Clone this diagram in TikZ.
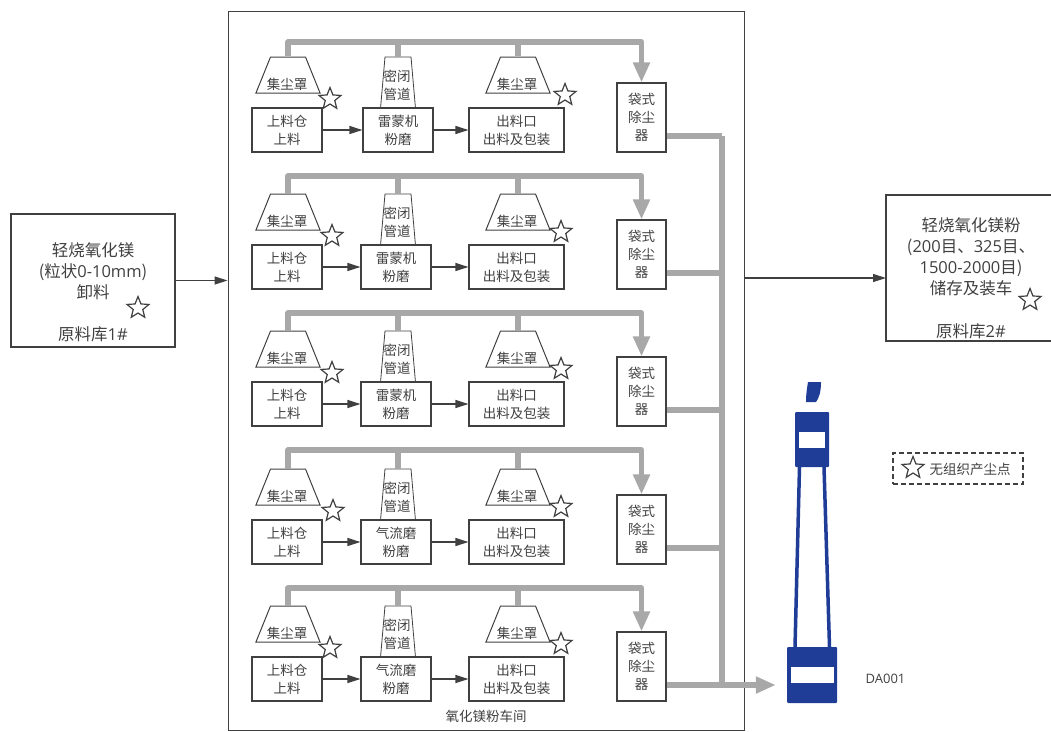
\documentclass[tikz,border=0pt]{standalone}
\usepackage{fontspec}
\setmainfont{Noto Sans CJK SC}
\newfontfamily\lat{Open Sans}
\usetikzlibrary{arrows.meta,shapes.geometric}
\definecolor{inkgray}{HTML}{404040}
\definecolor{pipegray}{HTML}{A8A8A8}
\definecolor{stackblue}{HTML}{1F3C96}
\tikzset{
  txt/.style={text=inkgray,font=\fontsize{13.5}{18}\selectfont,align=center,inner sep=0pt},
  bigtxt/.style={text=inkgray,font=\fontsize{16.5}{21}\selectfont,align=center,inner sep=0pt},
  unitbox/.style={draw=inkgray,line width=1.1pt,minimum height=44,inner sep=0pt,txt},
  hood/.style={draw=inkgray,line width=1pt,trapezium,trapezium left angle=68,trapezium right angle=68,inner xsep=17.5pt,inner ysep=18pt},
  duct/.style={draw=inkgray,line width=0.8pt,trapezium,trapezium left angle=85,trapezium right angle=85,inner xsep=13pt,inner ysep=25.5pt},
  dust/.style={draw=inkgray,fill=white,line width=1.2pt,star,star points=5,star point ratio=2.3,minimum size=23,inner sep=0pt},
  flow/.style={draw=inkgray,line width=1.3pt,-{Triangle[length=13pt,width=8pt]}},
  pipe/.style={draw=pipegray,line width=5.5pt,line join=round},
  pipehead/.style={-{Triangle[length=20pt,width=16pt]}},
  stackpart/.style={fill=stackblue,rounded corners=1pt,inner sep=0pt},
  stackwin/.style={fill=white,inner sep=0pt}
}
\begin{document}
\begin{tikzpicture}[x=1pt,y=-1pt]
  \useasboundingbox (0,0) rectangle (1051,731);
  % Workshop and the two stores
  \node[draw=inkgray,line width=1pt,minimum width=516,minimum height=719] (hall) at (486,370.5) {};
  \node[txt] (halltext) at (486,716) {氧化镁粉车间};
  \node[draw=inkgray,line width=1.1pt,minimum width=164,minimum height=133] (feed) at (93,280.5) {};
  \node[bigtxt] (feedtext) at (93,271) {轻烧氧化镁\\(粒状{\lat 0-10mm})\\卸料};
  \node[bigtxt] (feedname) at (93,334) {原料库{\lat 1\#}};
  \node[dust] (feedstar) at (138,308) {};
  \node[draw=inkgray,line width=1.1pt,minimum width=170,minimum height=146] (store) at (971,268) {};
  \node[bigtxt] (storetext) at (971,257) {轻烧氧化镁粉\\({\lat 200}目、{\lat 325}目、\\{\lat 1500-2000}目)\\储存及装车};
  \node[bigtxt] (storename) at (971,331) {原料库{\lat 2\#}};
  \node[dust] (storestar) at (1030,300) {};
  % Flows in and out of the workshop
  \draw[flow] (feed.east) -- (feed.east -| hall.west);
  \coordinate (outlet) at (886,278);
  \draw[flow] (outlet -| hall.east) -- (outlet);
  % Stack
  \node[stackpart,minimum width=50,minimum height=56] (stackbase) at (812,675) {};
  \node[stackwin,minimum width=43,minimum height=16] (basewin) at (812,675) {};
  \node[stackpart,minimum width=34,minimum height=55] (stacktop) at (812,439.5) {};
  \node[stackwin,minimum width=26,minimum height=16] (topwin) at (812,440) {};
  \draw[stackblue,line width=3.5pt] (799.5,467) -- (795,647);
  \draw[stackblue,line width=3.5pt] (824,467) -- (829.5,647);
  \fill[stackblue] (808,382) -- (821,382) .. controls (821,392) and (819,398) .. (816,402) -- (806,402) .. controls (806,394) and (807,388) .. (808,382) -- cycle;
  \node[txt,font=\lat\fontsize{13}{16}\selectfont] (stackname) at (885.5,679) {DA001};
  % Legend
  \node[draw=inkgray,line width=1.2pt,dash pattern=on 5pt off 3pt,minimum width=130,minimum height=31] (legend) at (958,468.5) {};
  \node[dust] (legendstar) at (913,468) {};
  \node[txt,font=\fontsize{13.5}{16}\selectfont] (legendtext) at (970,469) {无组织产尘点};
  % Five production lines
  \foreach \row/\ty/\busy/\mill/\millx/\stara/\starb in {
    a/108/42/雷蒙机/398/330/565,
    b/245/176/雷蒙机/396/332/561,
    c/382/313/雷蒙机/396/332/561,
    d/520/450/气流磨/396/333/561,
    e/657/588/气流磨/396/330/561}{
    % Hoods and closed duct
    \node[hood] (hooda\row) at (288,\ty-33) {};
    \node[txt] (hoodatext\row) at (287,\ty-24) {集尘罩};
    \node[duct] (duct\row) at (398,\ty-25.5) {};
    \node[txt] (ducttext\row) at (397,\ty-23) {密闭\\管道};
    \node[hood] (hoodb\row) at (518,\ty-33) {};
    \node[txt] (hoodbtext\row) at (517,\ty-24) {集尘罩};
    % Boxes
    \node[unitbox,minimum width=70] (stock\row) at (287,\ty+22) {上料仓\\上料};
    \node[unitbox,minimum width=70,fill=white] (mill\row) at (\millx,\ty+22) {\mill\\粉磨};
    \node[unitbox,minimum width=95] (pack\row) at (516.5,\ty+22) {出料口\\出料及包装};
    \node[unitbox,minimum width=49,minimum height=69] (bag\row) at (641.5,\ty+9.5) {袋式\\除尘\\器};
    \node[dust] (stara\row) at (\stara,\ty-9) {};
    \node[dust] (starb\row) at (\starb,\ty-13) {};
    % Material flow
    \draw[flow] (stock\row) -- (mill\row);
    \draw[flow] (mill\row) -- (pack\row);
    % Dust collection
    \coordinate (bus\row) at (397,\busy);
    \draw[pipe] (duct\row.north) -- (duct\row.north |- bus\row);
    \draw[pipe] (hoodb\row.north) -- (hoodb\row.north |- bus\row);
    \draw[pipe,pipehead] (hooda\row.north) -- (hooda\row.north |- bus\row) -- (bus\row -| bag\row.north) -- (bag\row.north);
    \coordinate (out\row) at (722,\ty+28);
    \draw[pipe] (out\row -| bag\row.east) -- (out\row);
  }
  % Main to stack
  \draw[pipe] (outa) -- (oute);
  \draw[pipe,pipehead,shorten >=11pt] (oute) -- (oute -| stackbase.west);
\end{tikzpicture}
\end{document}
